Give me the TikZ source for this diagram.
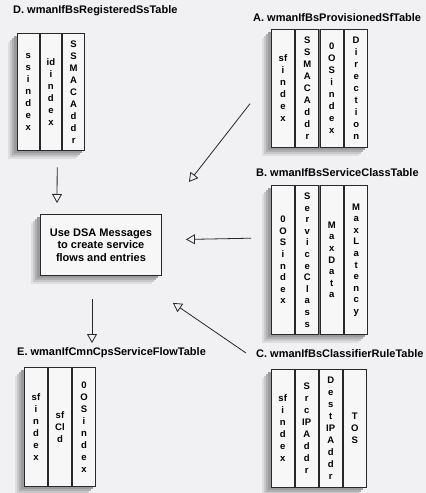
\documentclass[tikz,border=0pt]{standalone}
\usepackage{fontspec}
\setmainfont{Liberation Sans}
\usetikzlibrary{arrows.meta,calc}
\definecolor{bgc}{RGB}{241,241,244}
\definecolor{colfill}{RGB}{247,247,248}
\definecolor{linec}{RGB}{40,40,40}
\definecolor{shA}{RGB}{222,222,225}
\definecolor{shB}{RGB}{200,200,203}
\definecolor{shC}{RGB}{176,176,179}
\definecolor{shD}{RGB}{155,155,158}
\begin{document}
\begin{tikzpicture}[x=1pt,y=-1pt,
  shad/.style={
    preaction={fill=shA, transform canvas={xshift=-9pt,yshift=-9pt}},
    preaction={fill=shB, transform canvas={xshift=-7pt,yshift=-7pt}},
    preaction={fill=shC, transform canvas={xshift=-5pt,yshift=-5pt}},
    preaction={fill=shD, transform canvas={xshift=-3pt,yshift=-3pt}}},
  tbl/.style={shad, fill=linec!60, draw=none, inner sep=0pt, anchor=north west},
  col/.style={draw=linec, line width=0.9pt, fill=colfill, inner sep=0pt, anchor=north west, align=center,
    font=\fontsize{9.5}{12}\selectfont\bfseries},
  ttl/.style={anchor=west, inner sep=0pt, font=\fontsize{11}{13}\selectfont\bfseries},
  msgbox/.style={shad, draw=linec, line width=0.9pt, fill=colfill, inner sep=0pt, anchor=north west, align=center,
    font=\fontsize{11}{12.5}\selectfont\bfseries},
  arr/.style={draw=linec, line width=0.8pt, -{Triangle[open, length=9pt, width=10pt, line width=0.8pt]}}]

\fill[bgc] (0,0) rectangle (426,493);
\useasboundingbox (0,0) rectangle (426,493);

% D table
\node[ttl] (ttlD) at (13,11) {D. wmanIfBsRegisteredSsTable};
\node[tbl, minimum width=68pt, minimum height=117pt] (tD) at (17,33) {};
\node[col, minimum width=21.5pt, minimum height=117pt] (d1) at (17,33) {s\\s\\i\\n\\d\\e\\x};
\node[col, minimum width=21.5pt, minimum height=117pt] (d2) at (39.7,33) {id\\i\\n\\d\\e\\x};
\node[col, minimum width=21.5pt, minimum height=117pt] (d3) at (62.4,33) {S\\S\\M\\A\\C\\A\\d\\d\\r};

% A table
\node[ttl] (ttlA) at (253,18) {A. wmanIfBsProvisionedSfTable};
\node[tbl, minimum width=97pt, minimum height=118pt] (tA) at (271,29) {};
\node[col, minimum width=23pt, minimum height=118pt] (a1) at (271,29) {sf\\i\\n\\d\\e\\x};
\node[col, minimum width=23pt, minimum height=118pt] (a2) at (295.4,29) {S\\S\\M\\A\\C\\A\\d\\d\\r};
\node[col, minimum width=23pt, minimum height=118pt] (a3) at (319.8,29) {0\\O\\S\\i\\n\\d\\e\\x};
\node[col, minimum width=23pt, minimum height=118pt] (a4) at (344.2,29) {D\\i\\r\\e\\c\\t\\i\\o\\n};

% B table
\node[ttl] (ttlB) at (256,173) {B. wmanIfBsServiceClassTable};
\node[tbl, minimum width=97pt, minimum height=149pt] (tB) at (271,185) {};
\node[col, minimum width=23pt, minimum height=149pt, font=\fontsize{9.5}{11.6}\selectfont\bfseries] (b1) at (271,185) {0\\O\\S\\i\\n\\d\\e\\x};
\node[col, minimum width=23pt, minimum height=149pt, font=\fontsize{9.5}{11.6}\selectfont\bfseries] (b2) at (295.4,185) {S\\e\\r\\v\\i\\c\\e\\C\\l\\a\\s\\s};
\node[col, minimum width=23pt, minimum height=149pt, font=\fontsize{9.5}{11.6}\selectfont\bfseries] (b3) at (319.8,185) {M\\a\\x\\D\\a\\t\\a};
\node[col, minimum width=23pt, minimum height=149pt, font=\fontsize{9.5}{11.6}\selectfont\bfseries] (b4) at (344.2,185) {M\\a\\x\\L\\a\\t\\e\\n\\c\\y};

% C table
\node[ttl] (ttlC) at (256,354) {C. wmanIfBsClassifierRuleTable};
\node[tbl, minimum width=95pt, minimum height=118pt] (tC) at (271,369) {};
\node[col, minimum width=22.5pt, minimum height=118pt] (c1) at (271,369) {sf\\i\\n\\d\\e\\x};
\node[col, minimum width=22.5pt, minimum height=118pt] (c2) at (295,369) {S\\r\\c\\IP\\A\\d\\d\\r};
\node[col, minimum width=22.5pt, minimum height=118pt] (c3) at (319,369) {D\\e\\s\\t\\IP\\A\\d\\d\\r};
\node[col, minimum width=22.5pt, minimum height=118pt] (c4) at (343,369) {T\\O\\S};

% E table
\node[ttl] (ttlE) at (17,353) {E. wmanIfCmnCpsServiceFlowTable};
\node[tbl, minimum width=71.5pt, minimum height=119pt] (tE) at (24,367) {};
\node[col, minimum width=23pt, minimum height=119pt] (e1) at (24,367) {sf\\i\\n\\d\\e\\x};
\node[col, minimum width=23pt, minimum height=119pt] (e2) at (48,367) {sf\\Cl\\d};
\node[col, minimum width=23pt, minimum height=119pt] (e3) at (72,367) {0\\O\\S\\i\\n\\d\\e\\x};

% center box
\node[msgbox, minimum width=121pt, minimum height=61pt] (box) at (40,214) {Use DSA Messages\\to create service\\flows and entries};

% arrows
\draw[arr] ($(tD.south)+(6,17)$) -- ($(box.north west)+(17,-11)$);
\draw[arr] ($(box.south west)+(52,23)$) -- ($(tE.north west)+(68,-24)$);
\draw[arr] ($(tA.west)+(-21,15.5)$) -- ($(box.north east)+(27,-32)$);
\draw[arr] ($(tB.west)+(-20,-21.5)$) -- ($(box.east)+(24,-5.5)$);
\draw[arr] ($(tC.north west)+(-25,-16)$) -- ($(box.south east)+(11,27)$);
\end{tikzpicture}
\end{document}
